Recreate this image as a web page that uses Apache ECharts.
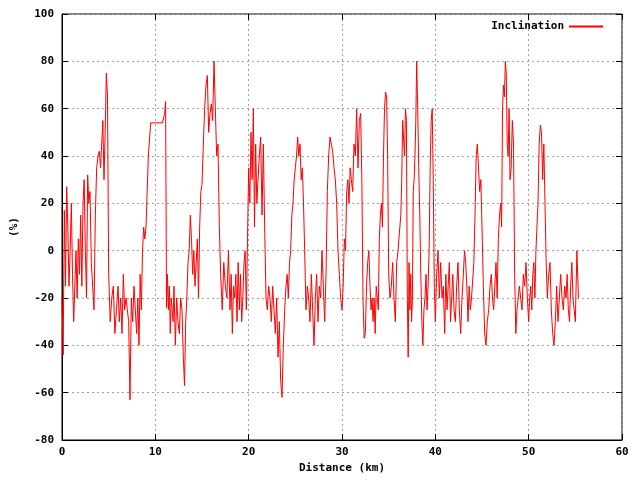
<!DOCTYPE html>
<html><head><meta charset="utf-8">
<script src="https://cdn.jsdelivr.net/npm/echarts@6/dist/echarts.min.js"></script>
<style>html,body{margin:0;padding:0;background:#fff}#c{width:640px;height:480px}</style>
</head><body><div id="c"></div>
<script>
const seriesName = 'Inclination';
const xTicks = [0,10,20,30,40,50,60];
const yTicks = [-80,-60,-40,-20,0,20,40,60,80,100];
// inclination samples (%) per kilometre segment, km 0..55
const km00 = [-20,-44,17,-15,27,10,-15,0];
const km01 = [20,-10,-30,-15,0,-20,5,-10];
const km02 = [15,-15,20,30,0,-20,32,20];
const km03 = [25,-5,-15,-25,15,35,40];
const km04 = [42,35,45,55,30,50,75,65];
const km05 = [-10,-30,-20,-15,-35,-25];
const km06 = [-15,-30,-20,-35,-10,-25,-20];
const km07 = [-25,-30,-63,-20,-30,-15,-25];
const km08 = [-35,-20,-40,-10,-25,0,10,5];
const km09 = [10,40,54,54];
const km10 = [54,54,54,54];
const km11 = [58,63,-24,-10,-25,-15,-35,-20,-25,-30];
const km12 = [-15,-40,-20,-30,-35,-20,-25];
const km13 = [-45,-57,-30,-20,-5,0,15,5];
const km14 = [-10,0,-15,-5,5,-20,10,25];
const km15 = [28,45,60,70,74,50,58];
const km16 = [62,55,80,60,40,45,10];
const km17 = [-10,-25,-5,-15,-20,0];
const km18 = [-25,-10,-35,-15,-20,-10,-30,-5];
const km19 = [-25,-10,-30,-20,-5,0,-25,5];
const km20 = [35,20,50,30,60,10,45,20];
const km21 = [30,40,48,15,45,10,-20];
const km22 = [-25,-15,-20,-30,-15,-25,-35];
const km23 = [-20,-45,-30,-55,-62,-40,-25];
const km24 = [-15,-10,-20,-5,0,15,20,30];
const km25 = [35,40,48,40,45,30,35,20];
const km26 = [0,-25,-15,-20,-30,-10,-25];
const km27 = [-40,-20,-10,-30,-15,-20,0];
const km28 = [-15,-30,-10,25,40,48,45];
const km29 = [42,35,30,20,0,-10,-20];
const km30 = [-25,-15,5,0,25,30,20,35];
const km31 = [30,25,45,40,60,35,55];
const km32 = [58,30,-20,-37,-35,-15,-5,0];
const km33 = [-15,-25,-20,-30,-20,-35,-15,-20,-25];
const km34 = [5,15,20,10,40,60,67,65,40];
const km35 = [-10,-20,-15,-5,-20,-30,-5];
const km36 = [0,5,10,15,30,55,47,40,60,55];
const km37 = [-20,-45,-5,-25,-10,-30,-20,25,30,40,55];
const km38 = [80,60,35,15,-10,-30,-40,-25,-20];
const km39 = [-10,-25,-15,0,35,55,60,30,-15];
const km40 = [-30,-10,0,-20,-5,-20,-15];
const km41 = [-35,-10,-25,-15,-5,-30,-20,-10];
const km42 = [-25,-30,-15,-5,-25,-35,-20];
const km43 = [-10,0,-5,-15,-30,-15,-25,-20];
const km44 = [-20,-5,15,40,45,35,25,30];
const km45 = [10,-15,-35,-40,-30,-25,-15];
const km46 = [-10,-20,-25,-15,-5,-20,5,15];
const km47 = [20,10,60,70,65,80,75,45,40,60];
const km48 = [30,35,55,45,-10,-35,-25,-20];
const km49 = [-15,-20,-25,-10,-15,-5,-20];
const km50 = [-30,-20,-15,-25,-10,-5,-20,0,10];
const km51 = [20,45,53,50,30,45,20,-5];
const km52 = [-20,-10,-5,-25,-35,-40,-30];
const km53 = [-15,-30,-20,-10,-20,-25,-15];
const km54 = [-20,-10,-25,-30,-15,-5,-20,-25];
const km55 = [-30,0,-20];
const segments = [km00,km01,km02,km03,km04,km05,km06,km07,km08,km09,km10,km11,km12,km13,km14,km15,km16,km17,km18,km19,km20,km21,km22,km23,km24,km25,km26,km27,km28,km29,km30,km31,km32,km33,km34,km35,km36,km37,km38,km39,km40,km41,km42,km43,km44,km45,km46,km47,km48,km49,km50,km51,km52,km53,km54,km55];
const data = [];
segments.forEach((seg, k) => {
  const span = k === 55 ? 0.5 : 1;
  seg.forEach((v, i) => data.push([k + span * i / seg.length, v]));
});

const font = 'DejaVu Sans Mono';
const split = {show:true, lineStyle:{color:'#a0a0a0', type:[2,3], width:1}};
const chart = echarts.init(document.getElementById('c'), null, {renderer:'canvas'});
chart.setOption({
  animation:false,
  backgroundColor:'#fff',
  grid:{left:62, right:18, top:14, bottom:40, show:true, borderColor:'#000', borderWidth:1},
  legend:{show:true, top:16, right:32, align:'right', itemWidth:34, itemHeight:2, icon:'rect', itemGap:6,
    textStyle:{fontFamily:font, fontSize:11, fontWeight:'bold', color:'#000'}, data:[seriesName]},
  xAxis:[{type:'value', min:0, max:60, interval:10, name:'Distance (km)', nameLocation:'middle', nameGap:23,
    nameTextStyle:{fontFamily:font, fontSize:11, fontWeight:'bold', color:'#000'},
    axisLine:{onZero:false, lineStyle:{color:'#000'}}, axisTick:{inside:true, length:6, lineStyle:{color:'#000'}},
    axisLabel:{fontFamily:font, fontSize:11, fontWeight:'bold', color:'#000', margin:7, formatter:v=>xTicks.includes(v)?String(v):''},
    splitLine:split},
   {type:'value', position:'top', min:0, max:60, interval:10, axisLine:{show:false, onZero:false},
    axisTick:{inside:true, length:6, lineStyle:{color:'#000'}}, axisLabel:{show:false}, splitLine:{show:false}}],
  yAxis:[{type:'value', min:-80, max:100, interval:20, name:'(%)', nameLocation:'middle', nameGap:42, nameRotate:90,
    nameTextStyle:{fontFamily:font, fontSize:11, fontWeight:'bold', color:'#000'},
    axisLine:{show:true, onZero:false, lineStyle:{color:'#000'}}, axisTick:{show:true, inside:true, length:6, lineStyle:{color:'#000'}},
    axisLabel:{fontFamily:font, fontSize:11, fontWeight:'bold', color:'#000', margin:8, formatter:v=>yTicks.includes(v)?String(v):''},
    splitLine:split},
   {type:'value', position:'right', min:-80, max:100, interval:20, axisLine:{show:false, onZero:false},
    axisTick:{show:true, inside:true, length:6, lineStyle:{color:'#000'}}, axisLabel:{show:false}, splitLine:{show:false}}],
  series:[{name:seriesName, type:'line', data:data, showSymbol:false, symbol:'none',
    lineStyle:{color:'#ff0000', width:1}, itemStyle:{color:'#ff0000'}}]
});
</script></body></html>
